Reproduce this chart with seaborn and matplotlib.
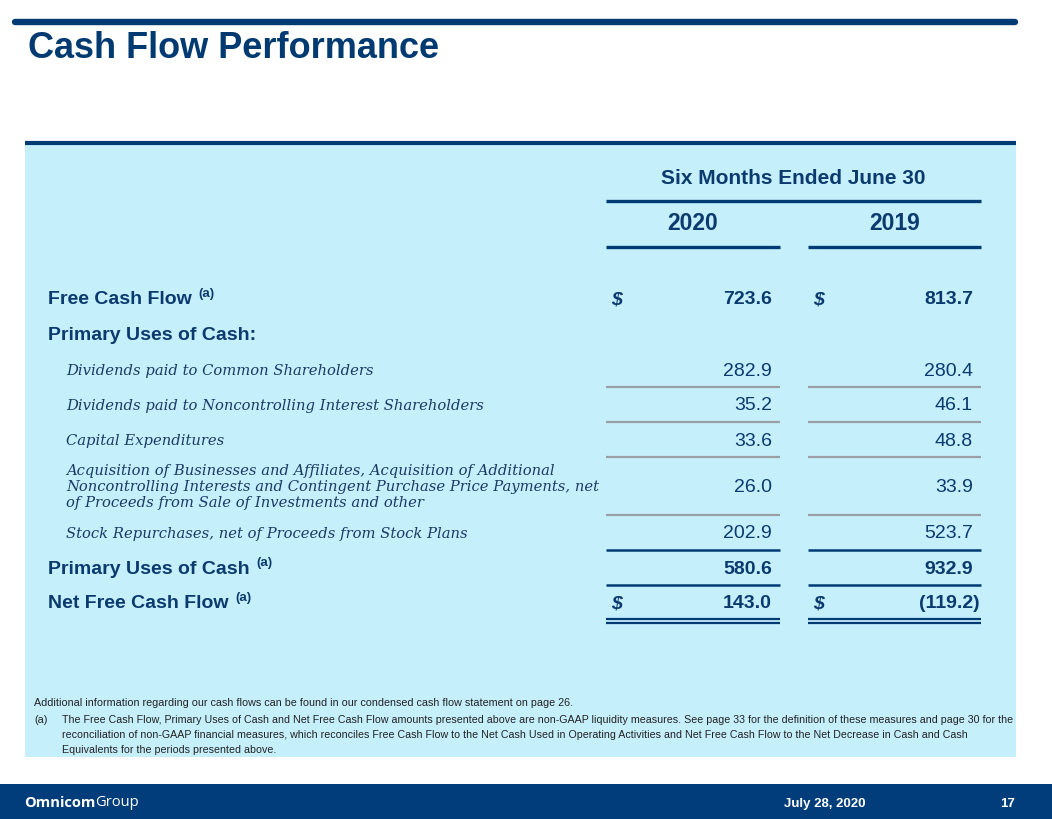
import matplotlib
matplotlib.use("Agg")
import matplotlib.pyplot as plt
from matplotlib.patches import Rectangle
import seaborn as sns

# Slide content
title = "Cash Flow Performance"
period_label = "Six Months Ended June 30"
years = ["2020", "2019"]

row_labels = [
    "Free Cash Flow",
    "Primary Uses of Cash:",
    "Dividends paid to Common Shareholders",
    "Dividends paid to Noncontrolling Interest Shareholders",
    "Capital Expenditures",
    "Acquisition of Businesses and Affiliates, Acquisition of Additional\n"
    "Noncontrolling Interests and Contingent Purchase Price Payments, net\n"
    "of Proceeds from Sale of Investments and other",
    "Stock Repurchases, net of Proceeds from Stock Plans",
    "Primary Uses of Cash",
    "Net Free Cash Flow",
]
values_2020 = [723.6, None, 282.9, 35.2, 33.6, 26.0, 202.9, 580.6, 143.0]
values_2019 = [813.7, None, 280.4, 46.1, 48.8, 33.9, 523.7, 932.9, -119.2]
row_kind = ["total", "header", "item", "item", "item", "item", "item", "total", "total"]
has_dollar = [True, False, False, False, False, False, False, False, True]
has_note = [True, False, False, False, False, False, False, True, True]

note_general = ("Additional information regarding our cash flows can be found in our "
                "condensed cash flow statement on page 26.")
note_a = [
    "The Free Cash Flow, Primary Uses of Cash and Net Free Cash Flow amounts presented above are "
    "non-GAAP liquidity measures. See page 33 for the definition of these measures and page 30 for the",
    "reconciliation of non-GAAP financial measures, which reconciles Free Cash Flow to the Net Cash "
    "Used in Operating Activities and Net Free Cash Flow to the Net Decrease in Cash and Cash",
    "Equivalents for the periods presented above.",
]
footer_date = "July 28, 2020"
page_no = "17"

# layout (pixels, y downwards)
row_y = [298, 333, 369, 404, 439, 485, 532, 567, 602]
col_spans = [(606, 780), (808, 981)]
rules = [(387, "gray"), (422, "gray"), (457, "gray"), (515, "gray"),
         (550, "blue"), (585, "blue")]
DY = 2  # matplotlib "center" sits a little high

NAVY = "#0B3A6E"
BAR = "#003B73"
PANEL = "#C6EFFC"
GRAY = "#9A9FA6"

sns.set_theme(style="white")
plt.rcParams["font.family"] = ["Liberation Sans", "DejaVu Sans"]

W, H = 1052, 819
fig = plt.figure(figsize=(W / 100, H / 100), dpi=100)
ax = fig.add_axes([0, 0, 1, 1])
ax.set_xlim(0, W)
ax.set_ylim(H, 0)
ax.axis("off")

# header bars and panel
ax.plot([15, 1015], [22, 22], color=BAR, lw=4.6, solid_capstyle="round")
ax.add_patch(Rectangle((25, 144), 991, 613, color=PANEL, lw=0))
ax.plot([25, 1016], [143, 143], color=BAR, lw=3.0, solid_capstyle="butt")
ax.text(28, 47 + DY, title, fontsize=26, fontweight="bold", color="#003A70", va="center")

# column headers
ax.text(793, 177 + DY, period_label, fontsize=15, fontweight="bold", color=NAVY,
        ha="center", va="center")
ax.hlines(201, col_spans[0][0], col_spans[1][1], color=BAR, lw=2.4)
for (x0, x1), yr in zip(col_spans, years):
    ax.text((x0 + x1) / 2, 222 + DY, yr, fontsize=16.5, fontweight="bold", color=NAVY,
            ha="center", va="center")
    ax.hlines(247, x0, x1, color=BAR, lw=2.4)

fig.canvas.draw()
renderer = fig.canvas.get_renderer()


def fmt(v):
    return f"({abs(v):.1f})" if v < 0 else f"{v:.1f}"


for i, label in enumerate(row_labels):
    y = row_y[i] + DY
    kind = row_kind[i]
    if kind == "item":
        lines = label.split("\n")
        y0 = y - (len(lines) - 1) * 16.5 / 2
        for k, ln in enumerate(lines):
            ax.text(66, y0 + k * 16.5, ln, fontsize=10.6, style="italic",
                    family="DejaVu Serif", color="#1B3A66", va="center")
    else:
        t = ax.text(48, y, label, fontsize=14, fontweight="bold", color=NAVY, va="center")
        if has_note[i]:
            bb = t.get_window_extent(renderer)
            ax.text(bb.x1 + 7, y - 6, "(a)", fontsize=9.5, fontweight="bold",
                    color=NAVY, va="center")
    weight = "bold" if kind == "total" else "normal"
    for (x0, x1), vals in zip(col_spans, [values_2020, values_2019]):
        v = vals[i]
        if v is None:
            continue
        xr = x1 - 1 if v < 0 else x1 - 8
        ax.text(xr, y, fmt(v), fontsize=14, fontweight=weight, color=NAVY,
                ha="right", va="center")
        if has_dollar[i]:
            ax.text(x0 + 5, y, "$", fontsize=14, fontweight="bold", style="italic",
                    color=NAVY, va="center")

for y, kind in rules:
    for x0, x1 in col_spans:
        ax.hlines(y, x0, x1, color=GRAY if kind == "gray" else BAR,
                  lw=1.6 if kind == "gray" else 1.8)
for x0, x1 in col_spans:
    ax.hlines(619, x0, x1, color=BAR, lw=1.6)
    ax.hlines(623, x0, x1, color=BAR, lw=1.6)

# footnotes
NOTE = "#222222"
ax.text(34, 702 + 1, note_general, fontsize=7.75, color=NOTE, va="center")
ax.text(34, 719 + 1, "(a)", fontsize=7.75, color=NOTE, va="center")
for k, ln in enumerate(note_a):
    ax.text(62, 719 + 1 + k * 15, ln, fontsize=7.65, color=NOTE, va="center")

# footer
ax.add_patch(Rectangle((0, 784), W, H - 784, color="#003D7A", lw=0))
t = ax.text(24, 802 + 1, "Omnicom", fontsize=10.6, fontweight="bold", family="Open Sans",
            color="white", va="center")
bb = t.get_window_extent(renderer)
ax.text(bb.x1, 802 + 1, "Group", fontsize=10.6, family="Open Sans", color="white", va="center")
ax.text(825, 803 + 1, footer_date, fontsize=9.5, fontweight="bold", color="white",
        ha="center", va="center")
ax.text(1015, 803 + 1, page_no, fontsize=9.5, fontweight="bold", color="white",
        ha="right", va="center")

fig.savefig("out.png", dpi=100, facecolor="white")
